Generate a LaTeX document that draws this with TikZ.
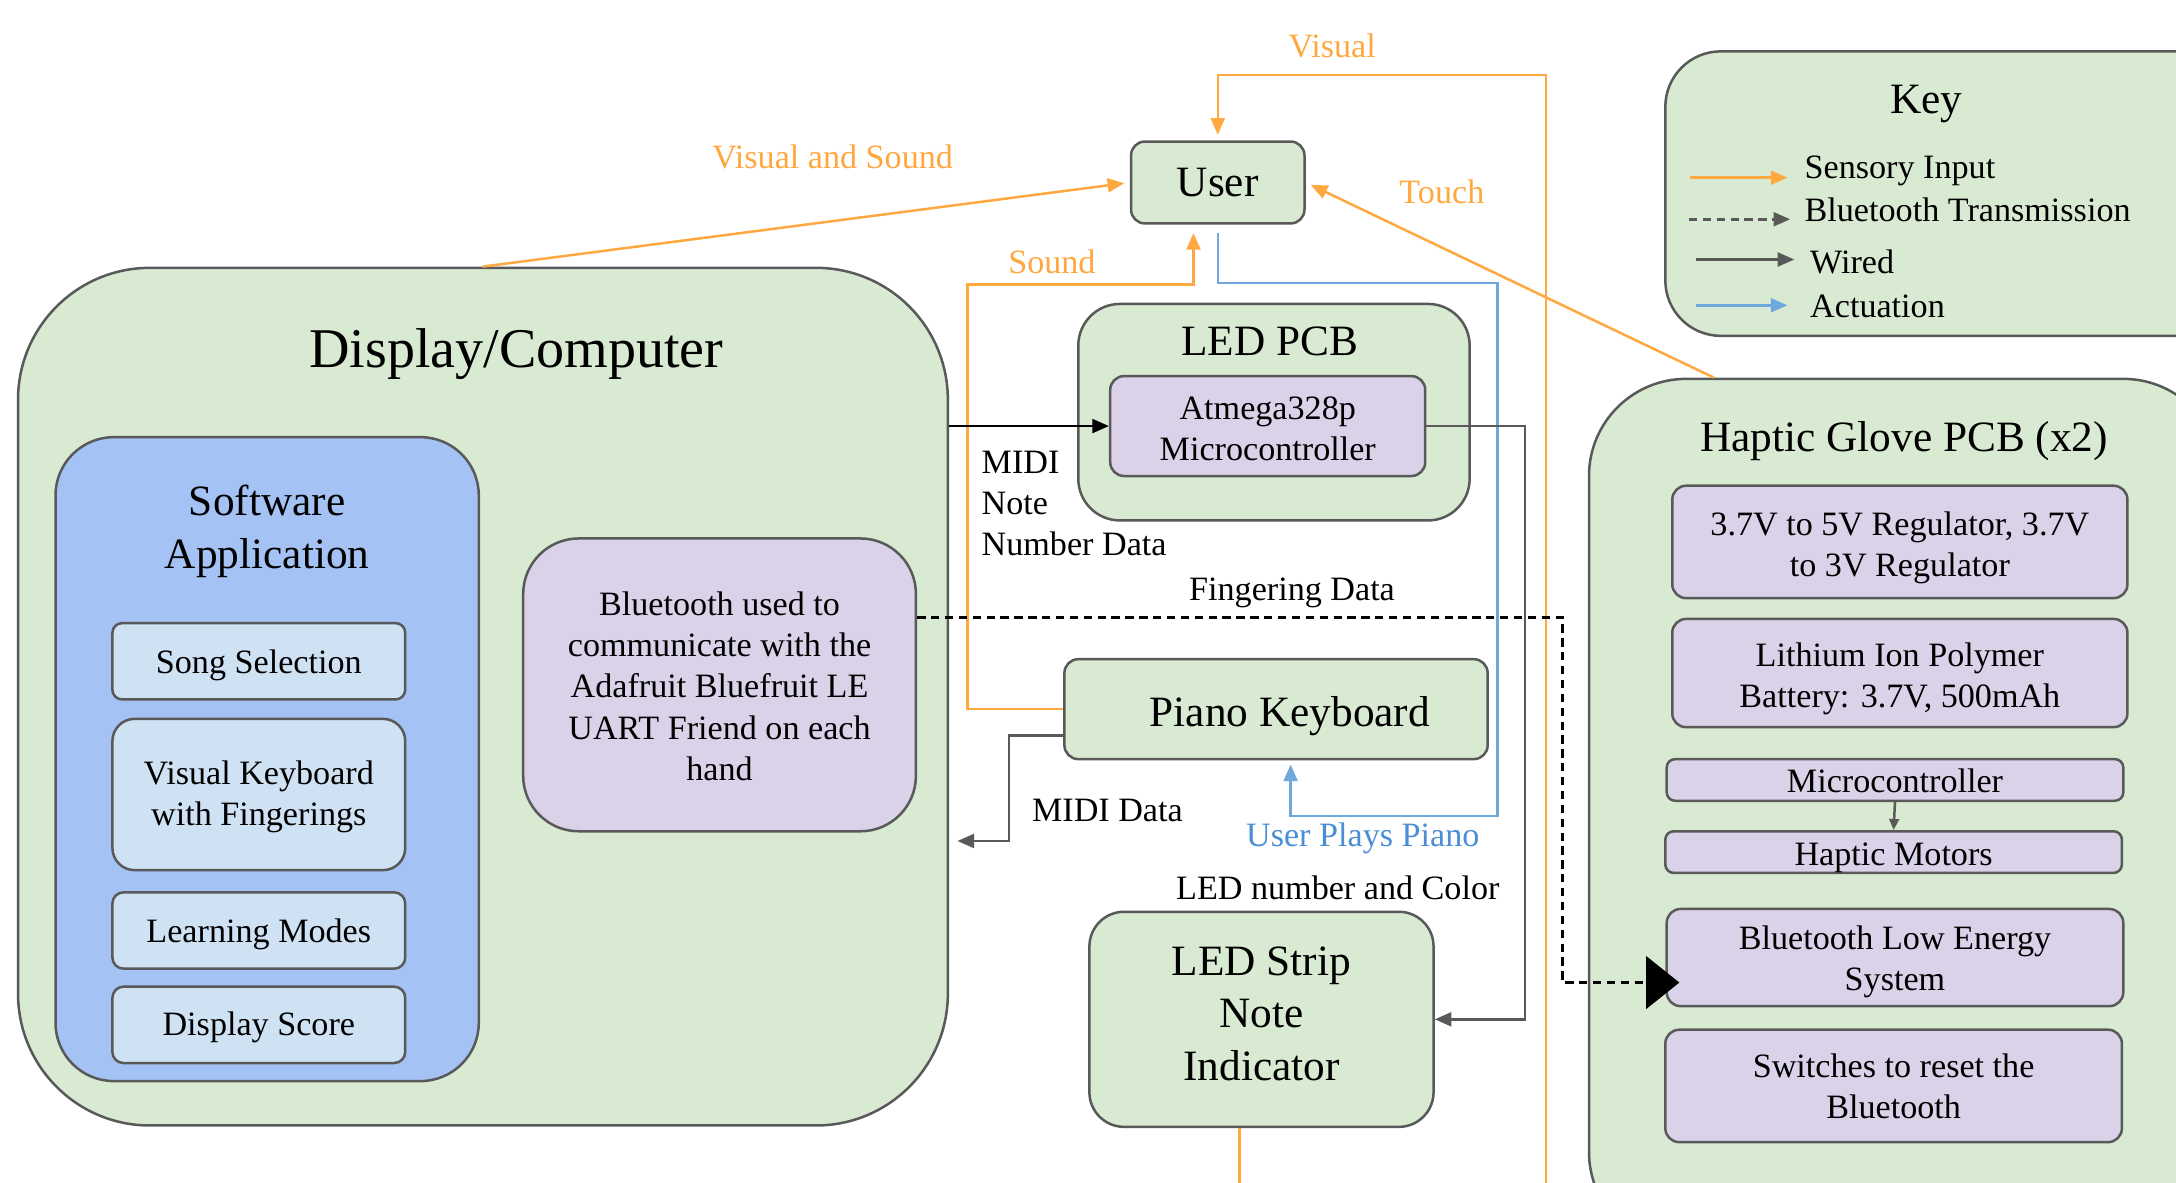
\documentclass[tikz,border=0pt]{standalone}
\usepackage{fontspec}
\setmainfont{Liberation Serif}
\usetikzlibrary{arrows.meta,calc}
\definecolor{gfill}{HTML}{D9EAD3}
\definecolor{purp}{HTML}{D9D2E9}
\definecolor{appblue}{HTML}{A4C2F4}
\definecolor{lblue}{HTML}{CFE2F3}
\definecolor{bord}{HTML}{595959}
\definecolor{orng}{HTML}{FFA83F}
\definecolor{bluel}{HTML}{6FA8DC}
\definecolor{bluet}{HTML}{4A8FD6}
\newcommand\smallfnt{\fontsize{12.3pt}{14.8pt}\selectfont}
\newcommand\largefnt{\fontsize{15.6pt}{19pt}\selectfont}
\newcommand\titlefnt{\fontsize{20.2pt}{24pt}\selectfont}
\begin{document}
\begin{tikzpicture}[x=0.5pt,y=-0.5pt,
  box/.style={draw=bord, line width=0.9pt, rounded corners=#1, align=center, inner sep=0pt, text=black},
  box/.default=5pt,
  txs/.style={inner sep=0pt, align=center, font=\smallfnt},
  txl/.style={inner sep=0pt, align=center, font=\largefnt},
  sens/.style={draw=orng, line width=0.9pt},
  wire/.style={draw=bord, line width=0.9pt},
  act/.style={draw=bluel, line width=0.9pt},
  tip/.style={-{Triangle[length=6pt,width=5pt]}},
  lbl/.style={inner sep=0pt, font=\smallfnt},
]
\useasboundingbox (0,0) rectangle (1568,852);
\clip (0,0) rectangle (1568,852);
\fill[white] (0,0) rectangle (1568,852);

% Display / Computer
\node[box=47.5pt, fill=gfill, minimum width=335pt, minimum height=309pt] (disp) at (348,502) {};
\node[font=\titlefnt, inner sep=0pt] (dispT) at (372,255) {Display/Computer};
\node[box=21pt, fill=appblue, minimum width=152.5pt, minimum height=232pt] (soft) at (192.5,547) {};
\node[txl] (softT) at (192.5,383) {Software\\Application};
\node[box=3.5pt, fill=lblue, minimum width=105.5pt, minimum height=27.5pt] (song) at (186.5,476.5) {};
\node[txs] (songT) at ([yshift=-1.5pt]song.center) {Song Selection};
\node[box=8pt, fill=lblue, minimum width=105.5pt, minimum height=54.5pt] (viskb) at (186.5,572.5) {};
\node[txs] (viskbT) at ([yshift=-1pt]viskb.center) {Visual Keyboard\\with Fingerings};
\node[box=4pt, fill=lblue, minimum width=105.5pt, minimum height=27.5pt] (learn) at (186.5,670.5) {};
\node[txs] (learnT) at ([yshift=-1.5pt]learn.center) {Learning Modes};
\node[box=4pt, fill=lblue, minimum width=105.5pt, minimum height=27.5pt] (score) at (186.5,738.5) {};
\node[txs] (scoreT) at ([yshift=-1pt]score.center) {Display Score};
\node[box=20pt, fill=purp, minimum width=141.5pt, minimum height=105.5pt] (bt) at (518.5,493.5) {};
\node[txs] (btT) at ([yshift=-0.5pt]bt.center) {Bluetooth used to\\communicate with the\\Adafruit Bluefruit LE\\UART Friend on each\\hand};

% middle column
\node[box=5pt, fill=gfill, minimum width=62.5pt, minimum height=29.5pt, font=\largefnt] (user) at (877.5,131.5) {User};
\node[box=15pt, fill=gfill, minimum width=141pt, minimum height=78pt] (ledpcb) at (918,297) {};
\node[font=\largefnt, inner sep=0pt] (ledpcbT) at (915,246) {LED PCB};
\node[box=5pt, fill=purp, minimum width=113.5pt, minimum height=36pt] (atmega) at (913.5,307) {};
\node[txs] (atmegaT) at ([yshift=-1pt]atmega.center) {Atmega328p\\Microcontroller};
\node[box=5pt, fill=gfill, minimum width=152.5pt, minimum height=36pt] (piano) at (919.5,511) {};
\node[txl] (pianoT) at ([xshift=5pt,yshift=-2.5pt]piano.center) {Piano Keyboard};
\node[box=12.5pt, fill=gfill, minimum width=124pt, minimum height=77.5pt] (strip) at (909,734.5) {};
\node[txl] (stripT) at ([yshift=2pt]strip.center) {LED Strip\\Note\\Indicator};

% Key
\node[box=20pt, fill=gfill, minimum width=205pt, minimum height=102.5pt] (key) at (1405,139.5) {};
\node[font=\largefnt, inner sep=0pt] (keyT) at (1388,75) {Key};

% Haptic glove
\node[box=35pt, fill=gfill, minimum width=227.5pt, minimum height=313.5pt] (hap) at (1372.5,586.5) {};
\node[font=\largefnt, inner sep=0pt] (hapT) at (1372,318) {Haptic Glove PCB (x2)};
\node[box=5pt, fill=purp, minimum width=164pt, minimum height=40.5pt] (reg) at (1369,390.5) {};
\node[txs] (regT) at ([yshift=-2pt]reg.center) {3.7V to 5V Regulator, 3.7V\\to 3V Regulator};
\node[box=5pt, fill=purp, minimum width=164pt, minimum height=39pt] (lipo) at (1369,485) {};
\node[txs] (lipoT) at ([yshift=-2pt]lipo.center) {Lithium Ion Polymer\\Battery: 3.7V, 500mAh};
\node[box=3pt, fill=purp, minimum width=164.5pt, minimum height=15pt] (mcu) at (1365.5,562) {};
\node[txs] (mcuT) at ([yshift=-0.5pt]mcu.center) {Microcontroller};
\node[box=3pt, fill=purp, minimum width=164.5pt, minimum height=15pt] (motors) at (1364.5,614) {};
\node[txs] (motorsT) at ([yshift=-2pt]motors.center) {Haptic Motors};
\node[box=5pt, fill=purp, minimum width=164.5pt, minimum height=35pt] (ble) at (1365.5,690) {};
\node[txs] (bleT) at ([yshift=-1.5pt]ble.center) {Bluetooth Low Energy\\System};
\node[box=5pt, fill=purp, minimum width=164.5pt, minimum height=40.5pt] (sw) at (1364.5,782.5) {};
\node[txs] (swT) at (sw.center) {Switches to reset the\\Bluetooth};

% connectors
\draw[sens, tip, shorten >=2pt] (disp.north) -- (user.west);
\coordinate (visB) at (1114,870);
\draw[sens, tip, shorten >=2pt] (visB) |- ([yshift=23.5pt]user.north) -- (user.north);
\draw[sens, tip, shorten >=2pt] ([xshift=-68.75pt]hap.north) -- (user.east);
\draw[sens, tip, shorten >=3pt] (piano.west) -- ++(-34.5pt,0) |- ([xshift=-8.75pt,yshift=-21.5pt]user.south) -- ([xshift=-8.75pt]user.south);
\draw[act, tip, shorten >=1.5pt] ([yshift=-3pt]user.south) |- (1079,204) |- ([xshift=5.25pt,yshift=-20pt]piano.south) -- ([xshift=5.25pt]piano.south);
\draw[line width=0.9pt, black, tip] (disp.east |- atmega.west) -- (atmega.west);
\draw[wire, tip] (atmega.east) -- (1099,307) |- (strip.east);
\draw[wire, tip, shorten >=3pt] ([yshift=-9.5pt]piano.west) -| (727,606) -- (disp.east |- 727,606);
\draw[line width=0.9pt, black, dash pattern=on 3pt off 2pt, -{Triangle[length=12pt,width=19pt]}, shorten >=-5pt] ([yshift=24.25pt]bt.east) -- (1126,445) |- ([yshift=-9pt]ble.west);
\draw[sens] ([xshift=-8pt]strip.south) -- ++(0,-30pt);
\draw[wire, -{Triangle[length=4pt,width=3.5pt]}] (mcu.south) -- (motors.north);

% labels
\node[lbl, text=orng] (lVS) at (600,113) {Visual and Sound};
\node[lbl, text=orng] (lV) at (960,33) {Visual};
\node[lbl, text=orng] (lT) at (1039,138) {Touch};
\node[lbl, text=orng] (lS) at (758,189) {Sound};
\node[lbl, align=left, anchor=west] (lMIDI) at (707,362.5) {MIDI\\Note\\Number Data};
\node[lbl] (lFD) at (931,427) {Fingering Data};
\node[lbl] (lMD) at (798,584) {MIDI Data};
\node[lbl, text=bluet] (lUP) at (982,604) {User Plays Piano};
\node[lbl] (lLED) at (964,640) {LED number and Color};

% key legend
\node[lbl, anchor=west] (k1) at (1300,123) {Sensory Input};
\node[lbl, anchor=west] (k2) at (1300,151) {Bluetooth Transmission};
\node[lbl, anchor=west] (k3) at (1304,189) {Wired};
\node[lbl, anchor=west] (k4) at (1304,221) {Actuation};
\coordinate (k1a) at (1218,128); \coordinate (k1b) at (1288,128);
\coordinate (k2a) at (1217,158); \coordinate (k2b) at (1290,158);
\coordinate (k3a) at (1222,187); \coordinate (k3b) at (1293,187);
\coordinate (k4a) at (1222,220); \coordinate (k4b) at (1288,220);
\draw[sens, tip] (k1a) -- (k1b);
\draw[wire, dash pattern=on 3pt off 2pt, tip] (k2a) -- (k2b);
\draw[wire, tip] (k3a) -- (k3b);
\draw[act, tip] (k4a) -- (k4b);
\end{tikzpicture}
\end{document}
